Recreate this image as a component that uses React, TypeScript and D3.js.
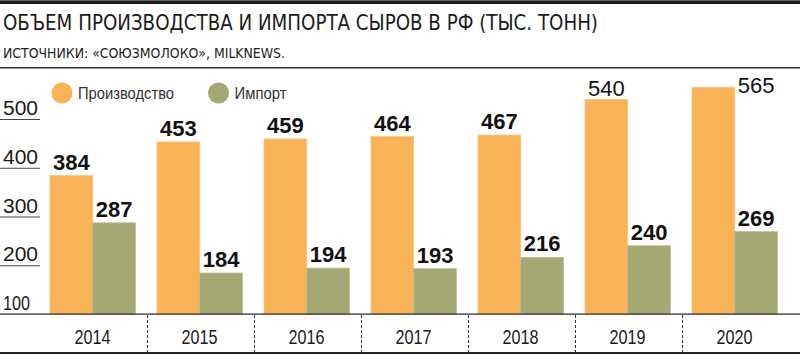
import React from "react";
import * as d3 from "d3";

const years = ["2014", "2015", "2016", "2017", "2018", "2019", "2020"];
const production = [384, 453, 459, 464, 467, 540, 565];
const imports = [287, 184, 194, 193, 216, 240, 269];
const yTicks = [100, 200, 300, 400, 500];
const seriesNames = ["Производство", "Импорт"];
const seriesColors = ["#F8B257", "#A4A873"];
const title = "ОБЪЕМ ПРОИЗВОДСТВА И ИМПОРТА СЫРОВ В РФ (ТЫС. ТОНН)";
const subtitle = "ИСТОЧНИКИ: «СОЮЗМОЛОКО», MILKNEWS.";

const W = 800;
const H = 355;
const COND = "'Liberation Sans Narrow', 'DejaVu Sans Condensed', 'Roboto Condensed', sans-serif";
const SANS = "'Liberation Sans', Arial, sans-serif";

export default function App() {
  const x = d3.scaleBand<string>().domain(years).range([40, 789]).padding(0);
  const inner = d3.scaleBand<string>().domain(["p", "i"]).range([10, 95.4]).padding(0);
  const y = d3.scaleLinear().domain([100, 500]).range([314, 119]);
  const bw = inner.bandwidth();
  const series = [production, imports];
  const keys = ["p", "i"];
  const legendLen = [96, 52];

  return (
    <svg width={W} height={H} style={{ position: "absolute", left: 0, top: 0, background: "#fff" }}>
      <rect x={0} y={0} width={W} height={H} fill="#fff" />
      {/* top rule */}
      <rect x={0} y={0} width={W} height={1} fill="#666" />
      <rect x={0} y={1} width={W} height={3} fill="#1a1a1a" />
      <text x={3} y={30} fontFamily={COND} fontSize={21.5} fill="#1a1a1a" textLength={595} lengthAdjust="spacingAndGlyphs">
        {title}
      </text>
      <text x={3} y={58} fontFamily={COND} fontSize={13.5} fill="#222" textLength={282} lengthAdjust="spacingAndGlyphs">
        {subtitle}
      </text>
      <rect x={0} y={67} width={W} height={1.5} fill="#333" />

      {/* legend */}
      {seriesNames.map((n, i) => {
        const cx = i === 0 ? 62 : 218.5;
        return (
          <g key={n}>
            <circle cx={cx} cy={93} r={10.5} fill={seriesColors[i]} />
            <text
              x={cx + 16}
              y={99}
              fontFamily={SANS}
              fontSize={17}
              fill="#333"
              textLength={legendLen[i]}
              lengthAdjust="spacingAndGlyphs"
            >
              {n}
            </text>
          </g>
        );
      })}

      {/* y ticks */}
      {yTicks.map((t) => (
        <g key={t}>
          <text
            x={3}
            y={y(t) - 4}
            fontFamily={SANS}
            fontSize={20}
            fill="#1a1a1a"
            textLength={t === 100 ? 27 : 35}
            lengthAdjust="spacingAndGlyphs"
          >
            {t}
          </text>
          {t !== 100 && <line x1={0} x2={40} y1={y(t) + 0.5} y2={y(t) + 0.5} stroke="#444" strokeWidth={1} />}
        </g>
      ))}

      {/* bars */}
      {years.map((yr, yi) => (
        <g key={yr} transform={`translate(${x(yr)},0)`}>
          {series.map((s, si) => {
            const v = s[yi];
            const bx = inner(keys[si])!;
            const top = y(v);
            return (
              <rect
                key={si}
                x={bx}
                y={top}
                width={bw}
                height={y(100) - top}
                fill={seriesColors[si]}
                stroke={si === 0 ? "#FBC47A" : "#B9BC90"}
                strokeWidth={0.8}
              />
            );
          })}
        </g>
      ))}

      {/* value labels */}
      {years.map((yr, yi) =>
        series.map((s, si) => {
          const v = s[yi];
          const top = y(v);
          let lx = x(yr)! + inner(keys[si])! + bw / 2;
          let ly = top - 6;
          let weight = "bold";
          if (top < 105) {
            weight = "normal";
            if (top < 95) {
              lx = x(yr)! + inner("i")! + bw / 2;
              ly = top + 6;
            } else {
              ly = top - 4;
            }
          }
          return (
            <text
              key={`${yi}-${si}`}
              x={lx}
              y={ly}
              textAnchor="middle"
              fontFamily={SANS}
              fontWeight={weight}
              fontSize={22}
              fill="#111"
            >
              {v}
            </text>
          );
        })
      )}

      {/* x axis */}
      <rect x={0} y={313.5} width={W} height={1.2} fill="#222" />
      {years.slice(1).map((yr) => (
        <line
          key={yr}
          x1={x(yr)! + 0.5}
          x2={x(yr)! + 0.5}
          y1={315}
          y2={352}
          stroke="#333"
          strokeWidth={1}
          strokeDasharray="3,2"
        />
      ))}
      {years.map((yr) => (
        <text
          key={yr}
          x={x(yr)! + x.bandwidth() / 2 - 1}
          y={344}
          textAnchor="middle"
          fontFamily={SANS}
          fontSize={21}
          fill="#1a1a1a"
          textLength={36}
          lengthAdjust="spacingAndGlyphs"
        >
          {yr}
        </text>
      ))}
      <rect x={0} y={352} width={W} height={2} fill="#222" />
    </svg>
  );
}
